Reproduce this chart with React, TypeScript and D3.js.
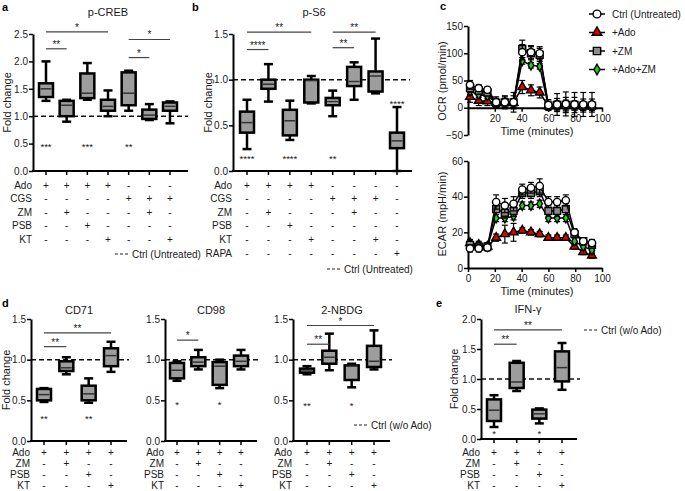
import React, { useEffect, useRef } from 'react'
import * as d3 from 'd3'

const FONT = '"Liberation Sans", Arial, Helvetica, sans-serif'

// box = [whisker low, q1, median, q3, whisker high]
// ---- a: p-CREB
const crebBoxes = [
  [1.28, 1.35, 1.5, 1.6, 2.0],
  [0.9, 1.0, 1.2, 1.28, 1.3],
  [1.3, 1.33, 1.42, 1.78, 1.97],
  [1.0, 1.1, 1.18, 1.3, 1.47],
  [1.1, 1.2, 1.42, 1.8, 1.83],
  [0.93, 0.95, 1.02, 1.12, 1.22],
  [0.87, 1.1, 1.18, 1.25, 1.27],
]
const crebStars = ['***', '', '***', '', '**', '', '']
const crebStarLevels = [0.47, 0, 0.47, 0, 0.47, 0, 0]
const crebBrackets = [
  { from: 0, to: 1, level: 2.23, label: '**' },
  { from: 0, to: 3, level: 2.54, label: '*' },
  { from: 4, to: 5, level: 2.07, label: '*' },
  { from: 4, to: 6, level: 2.4, label: '*' },
]
const crebRows = ['Ado', 'CGS', 'ZM', 'PSB', 'KT']
const crebSigns = ['++++---', '----+++', '-+---+-', '--+----', '---+--+']

// ---- b: p-S6
const s6Boxes = [
  [0.24, 0.42, 0.53, 0.65, 0.78],
  [0.76, 0.9, 0.95, 1.0, 1.17],
  [0.34, 0.39, 0.55, 0.67, 0.77],
  [0.74, 0.75, 0.99, 1.0, 1.04],
  [0.6, 0.72, 0.76, 0.8, 0.88],
  [0.78, 0.93, 0.98, 1.14, 1.19],
  [0.85, 0.87, 1.04, 1.09, 1.45],
  [0.0, 0.25, 0.33, 0.42, 0.7],
]
const s6Stars = ['****', '', '****', '', '**', '', '', '****']
const s6StarLevels = [0.15, 0, 0.15, 0, 0.15, 0, 0, 0.76]
const s6Brackets = [
  { from: 0, to: 1, level: 1.33, label: '****' },
  { from: 0, to: 3, level: 1.52, label: '**' },
  { from: 4, to: 5, level: 1.35, label: '**' },
  { from: 4, to: 6, level: 1.52, label: '**' },
]
const s6Rows = ['Ado', 'CGS', 'ZM', 'PSB', 'KT', 'RAPA']
const s6Signs = ['++++----', '----+++-', '-+---+--', '--+-----', '---+--+-', '-------+']

// ---- d: CD71, CD98, 2-NBDG
const cd71Boxes = [
  [0.48, 0.5, 0.57, 0.64, 0.65],
  [0.82, 0.86, 0.9, 0.98, 1.03],
  [0.47, 0.5, 0.58, 0.68, 0.77],
  [0.85, 0.92, 1.05, 1.14, 1.22],
]
const cd71Stars = ['**', '', '**', '']
const cd71Brackets = [
  { from: 0, to: 1, level: 1.16, label: '**' },
  { from: 0, to: 3, level: 1.33, label: '**' },
]
const cd98Boxes = [
  [0.74, 0.77, 0.87, 0.96, 0.98],
  [0.88, 0.92, 0.97, 1.03, 1.12],
  [0.65, 0.69, 0.92, 0.97, 1.0],
  [0.88, 0.92, 0.98, 1.05, 1.12],
]
const cd98Stars = ['*', '', '*', '']
const cd98Brackets = [{ from: 0, to: 1, level: 1.24, label: '*' }]
const nbdgBoxes = [
  [0.82, 0.84, 0.86, 0.89, 0.92],
  [0.87, 0.95, 1.03, 1.11, 1.32],
  [0.66, 0.75, 0.92, 0.93, 0.95],
  [0.88, 0.91, 0.98, 1.17, 1.36],
]
const nbdgStars = ['**', '', '*', '']
const nbdgBrackets = [
  { from: 0, to: 1, level: 1.19, label: '**' },
  { from: 0, to: 3, level: 1.42, label: '*' },
]

// ---- e: IFN-γ
const ifnBoxes = [
  [0.2, 0.3, 0.48, 0.66, 0.73],
  [0.8, 0.85, 0.95, 1.27, 1.3],
  [0.26, 0.34, 0.42, 0.49, 0.51],
  [0.82, 0.96, 1.19, 1.46, 1.6],
]
const ifnStars = ['*', '', '*', '']
const ifnBrackets = [
  { from: 0, to: 1, level: 1.58, label: '**' },
  { from: 0, to: 3, level: 1.82, label: '**' },
]
const kRows = ['Ado', 'ZM', 'PSB', 'KT']
const kSigns = ['++++', '-+--', '--+-', '---+']

// ---- c: Seahorse
const times = [1.5, 8, 14.5, 21, 27.5, 34, 40.5, 47, 53.5, 60, 66.5, 73, 79.5, 86, 92.5]
const seriesNames = ['Ctrl (Untreated)', '+Ado', '+ZM', '+Ado+ZM']
const ocrCtrl = [42, 36, 33, 10, 10, 10, 102, 102, 100, 5, 6, 7, 6, 6, 6]
const ocrAdo = [20, 13, 12, 9, 9, 9, 38, 32, 28, 3, 4, 4, 4, 3, 3]
const ocrZm = [36, 31, 28, 9, 10, 10, 108, 100, 97, 4, 5, 5, 5, 4, 4]
const ocrAdoZm = [30, 24, 22, 9, 9, 8, 86, 78, 76, 3, 4, 4, 4, 3, 3]
const ocrCtrlErr = [8, 6, 5, 10, 12, 18, 14, 12, 12, 10, 20, 22, 22, 22, 22]
const ocrAdoErr = [10, 9, 8, 8, 8, 8, 12, 10, 10, 6, 8, 8, 8, 8, 8]
const ocrZmErr = [8, 6, 6, 8, 10, 12, 16, 12, 12, 8, 12, 14, 14, 12, 12]
const ocrAdoZmErr = [6, 5, 5, 6, 8, 8, 6, 5, 5, 6, 8, 10, 8, 8, 8]
const ecarCtrl = [11, 11, 11.5, 37, 35, 36, 44, 45, 46, 37, 37, 38, 20, 15, 14]
const ecarAdo = [14, 13, 12, 17, 19, 20, 21, 20, 19, 17, 17, 17, 12, 9, 7]
const ecarZm = [13, 12, 12, 33, 31, 32, 42, 42, 43, 32, 32, 33, 19, 15, 13]
const ecarAdoZm = [13, 12, 12, 28, 28, 29, 35, 35, 36, 28, 28, 28, 15, 12, 10]
const ecarCtrlErr = [2, 2, 2, 4, 4, 4, 3, 3, 4, 3, 3, 3, 2, 2, 2]
const ecarAdoErr = [2, 2, 2, 2, 5, 5, 1.5, 1.5, 1.5, 1.5, 1.5, 1.5, 1.5, 1.5, 1.5]
const ecarZmErr = [2, 2, 2, 3, 3, 3, 3, 3, 3, 3, 3, 3, 2, 2, 2]
const ecarAdoZmErr = [2, 2, 2, 2, 2, 2, 2, 2, 2, 2, 2, 2, 2, 2, 2]

const styleText = (sel, size) =>
  sel.attr('font-family', FONT).attr('font-size', size).attr('fill', '#1a1a1a')

function drawBoxPanel(root, p) {
  const x = d3.scalePoint().domain(d3.range(p.boxes.length)).range([p.first, p.last])
  const y = d3.scaleLinear().domain([0, p.yMax]).range([p.yBottom, p.yTop])
  const g = root.append('g')

  styleText(g.append('text'), 11)
    .attr('x', p.titleX)
    .attr('y', p.titleY)
    .attr('text-anchor', 'middle')
    .text(p.title)

  if (p.ylabX) {
    styleText(g.append('text'), 11)
      .attr('transform', `translate(${p.ylabX}, ${(p.yTop + p.yBottom) / 2}) rotate(-90)`)
      .attr('text-anchor', 'middle')
      .text('Fold change')
  }

  // dashed control line (behind boxes)
  g.append('line')
    .attr('x1', p.axisX)
    .attr('x2', p.dashEnd)
    .attr('y1', y(1))
    .attr('y2', y(1))
    .attr('stroke', '#111')
    .attr('stroke-width', 1.5)
    .attr('stroke-dasharray', '5,3')

  const ya = g
    .append('g')
    .attr('transform', `translate(${p.axisX},0)`)
    .call(d3.axisLeft(y).tickValues(p.yTicks).tickFormat(d3.format('.1f')).tickSize(4).tickSizeOuter(0))
  ya.select('.domain').attr('stroke-width', 2)
  ya.selectAll('.tick line').attr('stroke-width', 1.5)
  styleText(ya.selectAll('.tick text'), 10).attr('x', -5)

  g.append('line')
    .attr('x1', p.axisX - 1)
    .attr('x2', p.axisEnd)
    .attr('y1', p.yBottom)
    .attr('y2', p.yBottom)
    .attr('stroke', '#000')
    .attr('stroke-width', 2)
  g.selectAll('.xt')
    .data(p.boxes)
    .enter()
    .append('line')
    .attr('x1', (d, i) => x(i))
    .attr('x2', (d, i) => x(i))
    .attr('y1', p.yBottom)
    .attr('y2', p.yBottom + 4)
    .attr('stroke', '#000')
    .attr('stroke-width', 1.5)

  const bw = 14
  const box = g
    .selectAll('.box')
    .data(p.boxes)
    .enter()
    .append('g')
    .attr('transform', (d, i) => `translate(${x(i)},0)`)
  box
    .append('line')
    .attr('y1', (d) => y(d[0]))
    .attr('y2', (d) => y(d[4]))
    .attr('stroke', '#000')
    .attr('stroke-width', 2.5)
  ;[0, 4].forEach((k) => {
    box
      .append('line')
      .attr('x1', -4.5)
      .attr('x2', 4.5)
      .attr('y1', (d) => y(d[k]))
      .attr('y2', (d) => y(d[k]))
      .attr('stroke', '#000')
      .attr('stroke-width', 2.5)
  })
  box
    .append('rect')
    .attr('x', -bw / 2)
    .attr('width', bw)
    .attr('y', (d) => y(d[3]))
    .attr('height', (d) => y(d[1]) - y(d[3]))
    .attr('fill', '#9d9d9d')
    .attr('stroke', '#000')
    .attr('stroke-width', 2.5)
  box
    .append('line')
    .attr('x1', -bw / 2 + 1.5)
    .attr('x2', bw / 2 - 1.5)
    .attr('y1', (d) => y(d[2]))
    .attr('y2', (d) => y(d[2]))
    .attr('stroke', '#333')
    .attr('stroke-width', 1.5)

  // stars vs control
  p.stars.forEach((s, i) => {
    if (!s) return
    styleText(g.append('text'), 9.5)
      .attr('x', x(i))
      .attr('y', y(p.starLevels[i]) + 5)
      .attr('text-anchor', 'middle')
      .text(s)
  })

  // brackets
  p.brackets.forEach((b) => {
    g.append('line')
      .attr('x1', x(b.from))
      .attr('x2', x(b.to))
      .attr('y1', y(b.level))
      .attr('y2', y(b.level))
      .attr('stroke', '#444')
      .attr('stroke-width', 1.2)
    styleText(g.append('text'), 10)
      .attr('x', (x(b.from) + x(b.to)) / 2)
      .attr('y', y(b.level) - 1)
      .attr('text-anchor', 'middle')
      .text(b.label)
  })

  // treatment table
  p.rows.forEach((r, ri) => {
    const ry = p.rowY0 + ri * p.rowStep + 3.5
    styleText(g.append('text'), p.rowFont)
      .attr('x', p.axisX - 1)
      .attr('y', ry)
      .attr('text-anchor', 'end')
      .text(r)
    p.signs[ri].split('').forEach((s, ci) => {
      styleText(g.append('text'), p.rowFont)
        .attr('x', x(ci))
        .attr('y', ry)
        .attr('text-anchor', 'middle')
        .text(s)
    })
  })
}

function drawLegendDash(root, x, y, label) {
  root
    .append('line')
    .attr('x1', x)
    .attr('x2', x + 13)
    .attr('y1', y)
    .attr('y2', y)
    .attr('stroke', '#222')
    .attr('stroke-width', 1.2)
    .attr('stroke-dasharray', '3,2')
  styleText(root.append('text'), 10)
    .attr('x', x + 17)
    .attr('y', y + 3.5)
    .text(label)
}

const markerSymbols = [d3.symbolCircle, d3.symbolTriangle, d3.symbolSquare, d3.symbolDiamond]
const markerSizes = [42, 34, 48, 26]
const markerFills = ['#ffffff', '#e00000', '#8c8c8c', '#22cc22']

function drawSeahorse(root, c) {
  const x = d3.scaleLinear().domain([0, 100]).range([468, 602])
  const y = d3.scaleLinear().domain(c.domain).range([c.yBottom, c.yTop])
  const g = root.append('g')

  const ya = g
    .append('g')
    .attr('transform', 'translate(468,0)')
    .call(d3.axisLeft(y).tickValues(c.ticks).tickFormat(d3.format('d')).tickSize(4).tickSizeOuter(0))
  ya.select('.domain').attr('stroke-width', 2)
  ya.selectAll('.tick line').attr('stroke-width', 1.5)
  styleText(ya.selectAll('.tick text'), 10).attr('x', -5)

  const xa = g
    .append('g')
    .attr('transform', `translate(0,${y(0)})`)
    .call(d3.axisBottom(x).tickValues(c.xTicks).tickFormat(d3.format('d')).tickSize(4).tickSizeOuter(0))
  xa.select('.domain').attr('stroke-width', 2)
  xa.selectAll('.tick line').attr('stroke-width', 1.5)
  styleText(xa.selectAll('.tick text'), 10)

  styleText(g.append('text'), 11)
    .attr('x', 537)
    .attr('y', c.timeY)
    .attr('text-anchor', 'middle')
    .text('Time (minutes)')
  styleText(g.append('text'), 11)
    .attr('transform', `translate(446, ${c.labelY}) rotate(-90)`)
    .attr('text-anchor', 'middle')
    .text(c.label)

  const order = [1, 3, 2, 0]
  order.forEach((si) => {
    const vals = c.values[si]
    const errs = c.errors[si]
    const pts = times.map((t, i) => ({ t, v: vals[i], e: errs[i] }))
    const eb = g.append('g')
    pts.forEach((d) => {
      const y1 = y(d.v + d.e)
      const y2 = y(d.v - d.e)
      eb.append('line').attr('x1', x(d.t)).attr('x2', x(d.t)).attr('y1', y1).attr('y2', y2)
        .attr('stroke', '#000').attr('stroke-width', 1.2)
      ;[y1, y2].forEach((yy) =>
        eb.append('line').attr('x1', x(d.t) - 3).attr('x2', x(d.t) + 3).attr('y1', yy).attr('y2', yy)
          .attr('stroke', '#000').attr('stroke-width', 1.2)
      )
    })
    g.append('path')
      .datum(pts)
      .attr('d', d3.line().x((d) => x(d.t)).y((d) => y(d.v)))
      .attr('fill', 'none')
      .attr('stroke', '#000')
      .attr('stroke-width', 1.5)
    g.selectAll(null)
      .data(pts)
      .enter()
      .append('path')
      .attr('transform', (d) => `translate(${x(d.t)},${y(d.v)})`)
      .attr('d', d3.symbol().type(markerSymbols[si]).size(markerSizes[si]))
      .attr('fill', markerFills[si])
      .attr('stroke', '#000')
      .attr('stroke-width', 1.4)
  })
}

const App = () => {
  const svgRef = useRef(null)

  useEffect(() => {
    document.body.style.margin = '0'
    const svg = d3.select(svgRef.current)
    svg.selectAll('*').remove()
    svg.append('rect').attr('width', 685).attr('height', 491).attr('fill', '#fff')

    // panel letters
    ;[
      ['a', 2, 11],
      ['b', 192, 11],
      ['c', 440, 10],
      ['d', 2, 307],
      ['e', 436, 307],
    ].forEach(([t, lx, ly]) => {
      styleText(svg.append('text'), 11).attr('x', lx).attr('y', ly).attr('font-weight', 'bold').attr('fill', '#000').text(t)
    })

    drawBoxPanel(svg, {
      title: 'p-CREB', boxes: crebBoxes, stars: crebStars, starLevels: crebStarLevels,
      brackets: crebBrackets, rows: crebRows, signs: crebSigns,
      yMax: 2.5, yTicks: [0, 0.5, 1, 1.5, 2, 2.5],
      axisX: 33, axisEnd: 188, dashEnd: 188, first: 46, last: 170,
      yTop: 34, yBottom: 171, titleX: 108, titleY: 16, ylabX: 11,
      rowY0: 185, rowStep: 13.5, rowFont: 10,
    })
    drawLegendDash(svg, 115, 254, 'Ctrl (Untreated)')

    drawBoxPanel(svg, {
      title: 'p-S6', boxes: s6Boxes, stars: s6Stars, starLevels: s6StarLevels,
      brackets: s6Brackets, rows: s6Rows, signs: s6Signs,
      yMax: 1.5, yTicks: [0, 0.5, 1, 1.5],
      axisX: 233, axisEnd: 412, dashEnd: 410, first: 247, last: 397,
      yTop: 34, yBottom: 171, titleX: 314, titleY: 16, ylabX: 212,
      rowY0: 185, rowStep: 13.6, rowFont: 10,
    })
    drawLegendDash(svg, 327, 269, 'Ctrl (Untreated)')

    const dCommon = {
      yMax: 1.5, yTicks: [0, 0.5, 1, 1.5], yTop: 319, yBottom: 441,
      titleY: 314, rows: kRows, signs: kSigns, rowY0: 452, rowStep: 11.3, rowFont: 10,
    }
    drawBoxPanel(svg, {
      ...dCommon, title: 'CD71', boxes: cd71Boxes, stars: cd71Stars, starLevels: [0.3, 0, 0.3, 0],
      brackets: cd71Brackets, axisX: 31, axisEnd: 127, dashEnd: 129, first: 44, last: 111,
      titleX: 79, ylabX: 10,
    })
    drawBoxPanel(svg, {
      ...dCommon, title: 'CD98', boxes: cd98Boxes, stars: cd98Stars, starLevels: [0.47, 0, 0.47, 0],
      brackets: cd98Brackets, axisX: 165, axisEnd: 257, dashEnd: 259, first: 177, last: 241,
      titleX: 211, ylabX: 0,
    })
    drawBoxPanel(svg, {
      ...dCommon, title: '2-NBDG', boxes: nbdgBoxes, stars: nbdgStars, starLevels: [0.45, 0, 0.45, 0],
      brackets: nbdgBrackets, axisX: 293, axisEnd: 390, dashEnd: 392, first: 307, last: 374,
      titleX: 342, ylabX: 0,
    })
    drawLegendDash(svg, 354, 425, 'Ctrl (w/o Ado)')

    drawBoxPanel(svg, {
      title: 'IFN-γ', boxes: ifnBoxes, stars: ifnStars, starLevels: [0.12, 0, 0.12, 0],
      brackets: ifnBrackets, rows: kRows, signs: kSigns,
      yMax: 2, yTicks: [0, 0.5, 1, 1.5, 2],
      axisX: 481, axisEnd: 577, dashEnd: 580, first: 494, last: 562,
      yTop: 319, yBottom: 439, titleX: 528, titleY: 313, ylabX: 458,
      rowY0: 452, rowStep: 11.3, rowFont: 10,
    })
    drawLegendDash(svg, 584, 330, 'Ctrl (w/o Ado)')

    drawSeahorse(svg, {
      domain: [-50, 150], ticks: [-50, 0, 50, 100, 150], xTicks: [20, 40, 60, 80, 100],
      yBottom: 135, yTop: 26, timeY: 135, label: 'OCR (pmol/min)', labelY: 81,
      values: [ocrCtrl, ocrAdo, ocrZm, ocrAdoZm],
      errors: [ocrCtrlErr, ocrAdoErr, ocrZmErr, ocrAdoZmErr],
    })
    drawSeahorse(svg, {
      domain: [0, 60], ticks: [0, 20, 40, 60], xTicks: [0, 20, 40, 60, 80, 100],
      yBottom: 268, yTop: 161, timeY: 295, label: 'ECAR (mpH/min)', labelY: 214,
      values: [ecarCtrl, ecarAdo, ecarZm, ecarAdoZm],
      errors: [ecarCtrlErr, ecarAdoErr, ecarZmErr, ecarAdoZmErr],
    })

    // legend for c
    seriesNames.forEach((name, i) => {
      const ly = 14 + i * 18.5
      svg.append('line').attr('x1', 589).attr('x2', 605).attr('y1', ly).attr('y2', ly)
        .attr('stroke', '#000').attr('stroke-width', 1.5)
      svg.append('path')
        .attr('transform', `translate(597,${ly})`)
        .attr('d', d3.symbol().type(markerSymbols[i]).size(markerSizes[i] + 6))
        .attr('fill', markerFills[i])
        .attr('stroke', '#000')
        .attr('stroke-width', 1.4)
      styleText(svg.append('text'), 10).attr('x', 612).attr('y', ly + 3.5).text(name)
    })
  }, [])

  return <svg ref={svgRef} width={685} height={491} style={{ display: 'block' }}></svg>
}

export default App
